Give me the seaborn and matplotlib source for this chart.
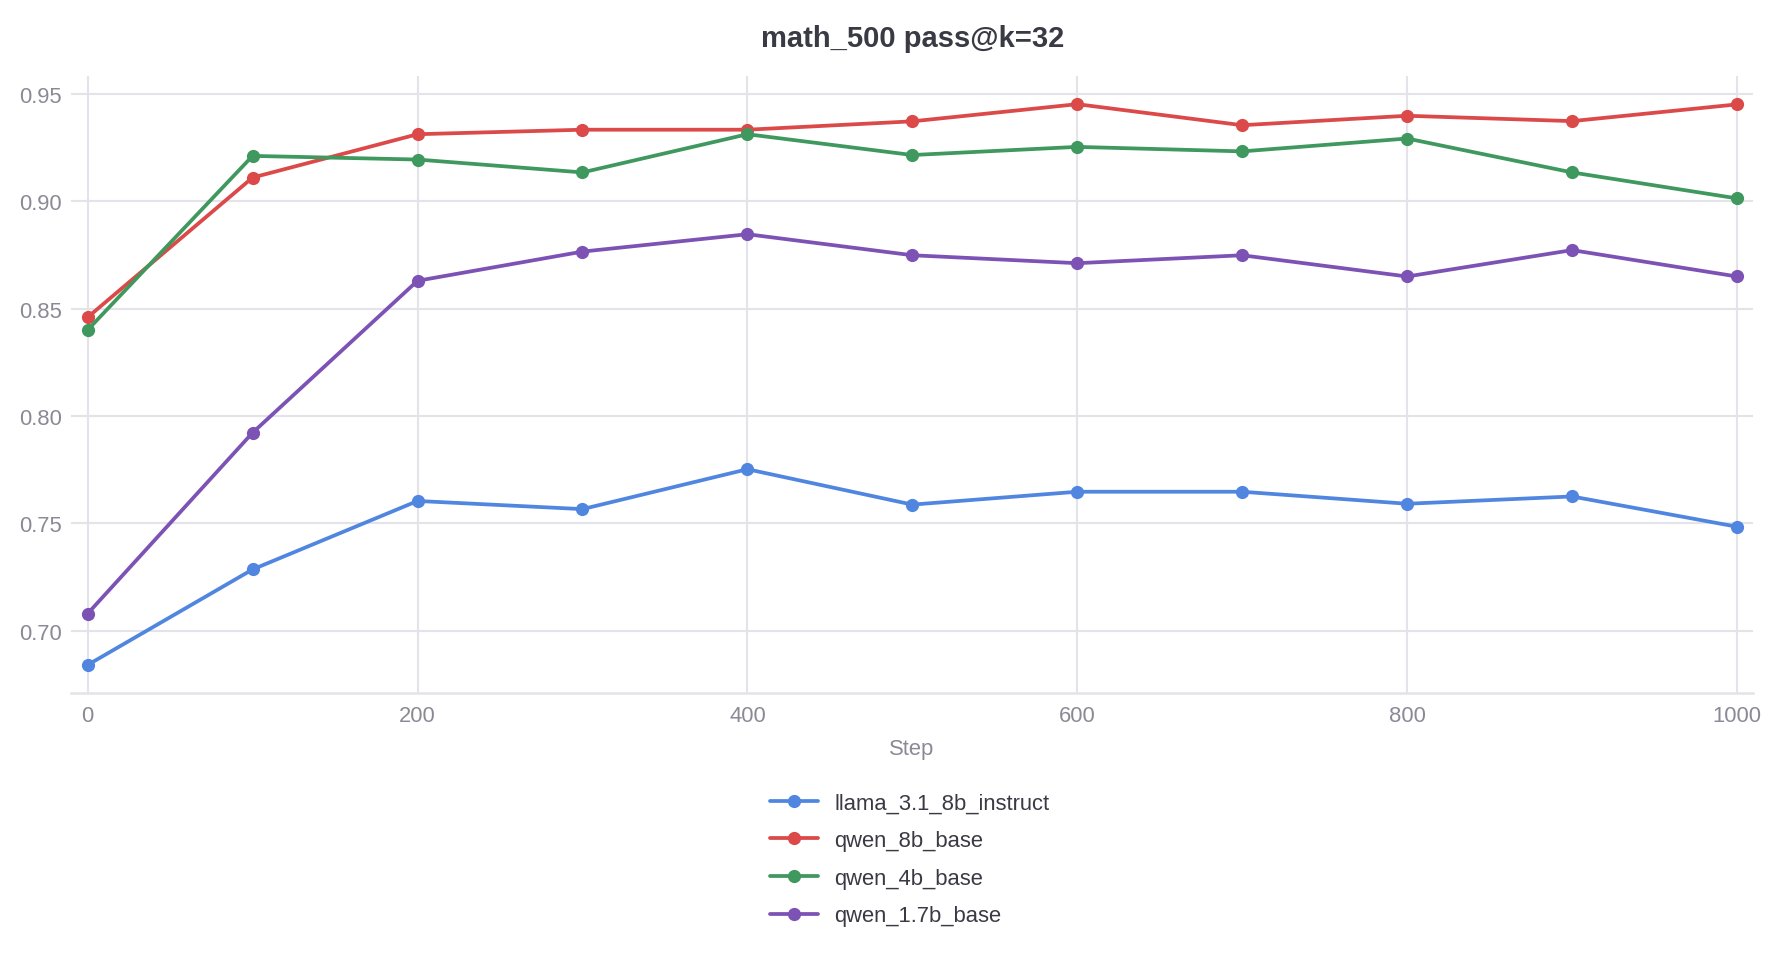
import pandas as pd
import matplotlib
matplotlib.use("Agg")
import matplotlib.pyplot as plt
import seaborn as sns

# values
steps = [0, 100, 200, 300, 400, 500, 600, 700, 800, 900, 1000]
llama_3_1_8b_instruct = [0.684, 0.7285, 0.7604, 0.7566, 0.7752, 0.7587, 0.7647, 0.7647, 0.7591, 0.7625, 0.7484]
qwen_8b_base = [0.846, 0.9111, 0.9313, 0.9334, 0.9334, 0.9373, 0.9453, 0.9355, 0.9399, 0.9374, 0.9452]
qwen_4b_base = [0.8401, 0.9212, 0.9195, 0.9135, 0.9313, 0.9216, 0.9254, 0.9233, 0.9293, 0.9135, 0.9014]
qwen_1_7b_base = [0.7079, 0.7922, 0.8630, 0.8766, 0.8847, 0.8749, 0.8712, 0.8749, 0.8650, 0.8773, 0.8650]

models = ["llama_3.1_8b_instruct", "qwen_8b_base", "qwen_4b_base", "qwen_1.7b_base"]
colors = ["#5086E0", "#DB4949", "#3F985E", "#7C52B4"]
x_ticks = [0, 200, 400, 600, 800, 1000]
y_ticks = [0.70, 0.75, 0.80, 0.85, 0.90, 0.95]

series = [llama_3_1_8b_instruct, qwen_8b_base, qwen_4b_base, qwen_1_7b_base]
df = pd.concat(
    [pd.DataFrame({"Step": steps, "value": vals, "model": name}) for name, vals in zip(models, series)],
    ignore_index=True,
)

sns.set_theme(style="white")
plt.rcParams["font.family"] = ["Liberation Sans", "DejaVu Sans"]

grid_col = "#E3E3E9"
tick_col = "#8A8A96"
text_col = "#3A3A44"

fig = plt.figure(figsize=(17.81, 9.54), dpi=100)
ax = fig.add_axes([0.03987, 0.2725, 0.9442, 0.6465])

sns.lineplot(
    data=df, x="Step", y="value", hue="model", hue_order=models,
    palette=colors, marker="o", markersize=9.5, markeredgewidth=0,
    linewidth=2.7, ax=ax, legend=True,
)

ax.set_xlim(-10.1, 1009.5)
ax.set_ylim(0.6709, 0.9583)
ax.set_xticks(x_ticks)
ax.set_yticks(y_ticks)
ax.set_xticklabels([str(t) for t in x_ticks])
ax.set_yticklabels([f"{t:.2f}" for t in y_ticks])
ax.grid(True, color=grid_col, linewidth=1.5)
ax.set_axisbelow(True)
for side in ["left", "right", "top"]:
    ax.spines[side].set_visible(False)
ax.spines["bottom"].set_color(grid_col)
ax.spines["bottom"].set_linewidth(1.8)
ax.tick_params(axis="both", length=0, labelsize=15.8, labelcolor=tick_col)
ax.tick_params(axis="x", pad=8.5)
ax.tick_params(axis="y", pad=6.5)
ax.set_ylabel("")
ax.set_xlabel("Step", fontsize=15.8, color=tick_col, labelpad=9)

handles, labels = ax.get_legend_handles_labels()
ax.get_legend().remove()
fig.legend(
    handles, labels, loc="upper left", bbox_to_anchor=(0.4323, 0.1684),
    frameon=False, fontsize=15.8, labelcolor=text_col, borderpad=0,
    borderaxespad=0, handlelength=2.2, handletextpad=0.73, labelspacing=0.76,
)

fig.text(0.5127, 1 - 46.7 / 954, "math_500 pass@k=32", ha="center", va="baseline",
         fontsize=21, fontweight="bold", color=text_col)

fig.savefig("out.png", dpi=100)
